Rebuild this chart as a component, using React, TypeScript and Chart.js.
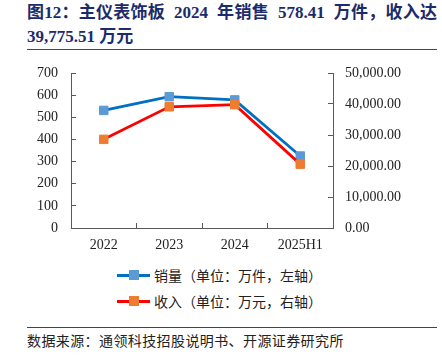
import React, { useEffect, useRef } from "react";
import { Chart, registerables } from "chart.js";

Chart.register(...registerables);

const categories = ["2022", "2023", "2024", "2025H1"];
const salesValues = [531, 593, 578.41, 325];
const revenueValues = [28600, 39100, 39775.51, 20600];
const leftTicks = [0, 100, 200, 300, 400, 500, 600, 700];
const rightTicks = [0, 10000, 20000, 30000, 40000, 50000];
const salesLabel = "销量（单位：万件，左轴）";
const revenueLabel = "收入（单位：万元，右轴）";
const titleLine1 = "图12：主仪表饰板  2024  年销售  578.41  万件，收入达";
const titleLine2 = "39,775.51 万元";
const sourceText = "数据来源：通领科技招股说明书、开源证券研究所";

const AXIS = "#595959";
const TICK_FONT = { family: "'Liberation Serif', 'Times New Roman', serif", size: 14 };

export default function App() {
  const ref = useRef<HTMLCanvasElement | null>(null);

  useEffect(() => {
    if (!ref.current) return;
    const chart = new Chart(ref.current, {
      type: "line",
      data: {
        labels: categories,
        datasets: [
          {
            label: salesLabel,
            data: salesValues,
            yAxisID: "y",
            borderColor: "#0070C0",
            backgroundColor: "#5B9BD5",
            pointBackgroundColor: "#5B9BD5",
            pointBorderColor: "#5B9BD5",
            pointStyle: "rect",
            pointRadius: 6,
            pointBorderWidth: 1,
            borderWidth: 2.8,
            order: 2,
          },
          {
            label: revenueLabel,
            data: revenueValues,
            yAxisID: "y1",
            borderColor: "#FF0000",
            backgroundColor: "#ED7D31",
            pointBackgroundColor: "#ED7D31",
            pointBorderColor: "#ED7D31",
            pointStyle: "rect",
            pointRadius: 6,
            pointBorderWidth: 1,
            borderWidth: 2.8,
            order: 1,
          },
        ],
      },
      options: {
        animation: false,
        responsive: false,
        maintainAspectRatio: false,
        layout: { padding: { top: 18, left: 0, right: 0, bottom: 0 } },
        plugins: { legend: { display: false }, tooltip: { enabled: false } },
        scales: {
          x: {
            type: "category",
            offset: true,
            grid: { offset: true, drawOnChartArea: false, drawTicks: true, tickLength: -5, color: AXIS },
            border: { display: true, color: AXIS, width: 1 },
            ticks: { font: TICK_FONT, color: "#222", padding: 14, maxRotation: 0 },
            afterFit: (s: any) => { s.height = 32; },
          },
          y: {
            position: "left",
            min: 0,
            max: 700,
            afterBuildTicks: (s: any) => { s.ticks = leftTicks.map((v) => ({ value: v })); },
            grid: { drawOnChartArea: false, drawTicks: true, tickLength: -5, color: AXIS },
            border: { display: true, color: AXIS, width: 1 },
            ticks: { font: TICK_FONT, color: "#222", padding: 18 },
            afterFit: (s: any) => { s.width = 71; s.paddingTop = 0; s.paddingBottom = 0; },
          },
          y1: {
            position: "right",
            min: 0,
            max: 50000,
            afterBuildTicks: (s: any) => { s.ticks = rightTicks.map((v) => ({ value: v })); },
            grid: { drawOnChartArea: false, drawTicks: true, tickLength: -5, color: AXIS },
            border: { display: true, color: AXIS, width: 1 },
            ticks: {
              font: TICK_FONT,
              color: "#222",
              padding: 17,
              callback: (v: any) =>
                Number(v).toLocaleString("en-US", { minimumFractionDigits: 2, maximumFractionDigits: 2 }),
            },
            afterFit: (s: any) => { s.width = 109; s.paddingTop = 0; s.paddingBottom = 0; },
          },
        },
      },
    });
    return () => chart.destroy();
  }, []);

  const cjk = "'Noto Sans CJK SC', sans-serif";
  const titleStyle: React.CSSProperties = {
    position: "absolute",
    left: 27,
    width: 410,
    height: 24,
    lineHeight: "24px",
    fontSize: 17,
    fontWeight: "bold",
    fontFamily: "'Liberation Serif', 'Noto Sans CJK SC', serif",
    color: "#1c2b6b",
    whiteSpace: "pre",
  };

  const legendRow = (label: string, line: string, marker: string, top: number) => (
    <div style={{ position: "absolute", left: 117, top, height: 20, display: "flex", alignItems: "center" }}>
      <div style={{ position: "relative", width: 33, height: 20 }}>
        <div style={{ position: "absolute", left: 0, top: 8.5, width: 33, height: 3, background: line }} />
        <div style={{ position: "absolute", left: 11.5, top: 5, width: 10, height: 10, background: marker }} />
      </div>
      <span style={{ marginLeft: 4, fontSize: 14, fontFamily: cjk, color: "#222", lineHeight: "20px" }}>{label}</span>
    </div>
  );

  return (
    <div style={{ position: "absolute", left: 0, top: 0, width: 442, height: 362, background: "#fff", overflow: "hidden" }}>
      <div style={{ ...titleStyle, top: 1, textAlign: "justify", textAlignLast: "justify" }}>{titleLine1}</div>
      <div style={{ ...titleStyle, top: 25 }}>{titleLine2}</div>
      <div style={{ position: "absolute", left: 27, top: 49, width: 410, height: 0, borderTop: "1.5px solid #444" }} />
      <canvas ref={ref} width={442} height={205} style={{ position: "absolute", left: 0, top: 55, width: 442, height: 205 }} />
      {legendRow(salesLabel, "#0070C0", "#5B9BD5", 265)}
      {legendRow(revenueLabel, "#FF0000", "#ED7D31", 291)}
      <div style={{ position: "absolute", left: 27, top: 327, width: 410, height: 0, borderTop: "1.5px solid #444" }} />
      <div style={{ position: "absolute", left: 27, top: 330, fontSize: 14, lineHeight: "20px", letterSpacing: 0.4, fontFamily: cjk, color: "#222", whiteSpace: "nowrap" }}>
        {sourceText}
      </div>
    </div>
  );
}
